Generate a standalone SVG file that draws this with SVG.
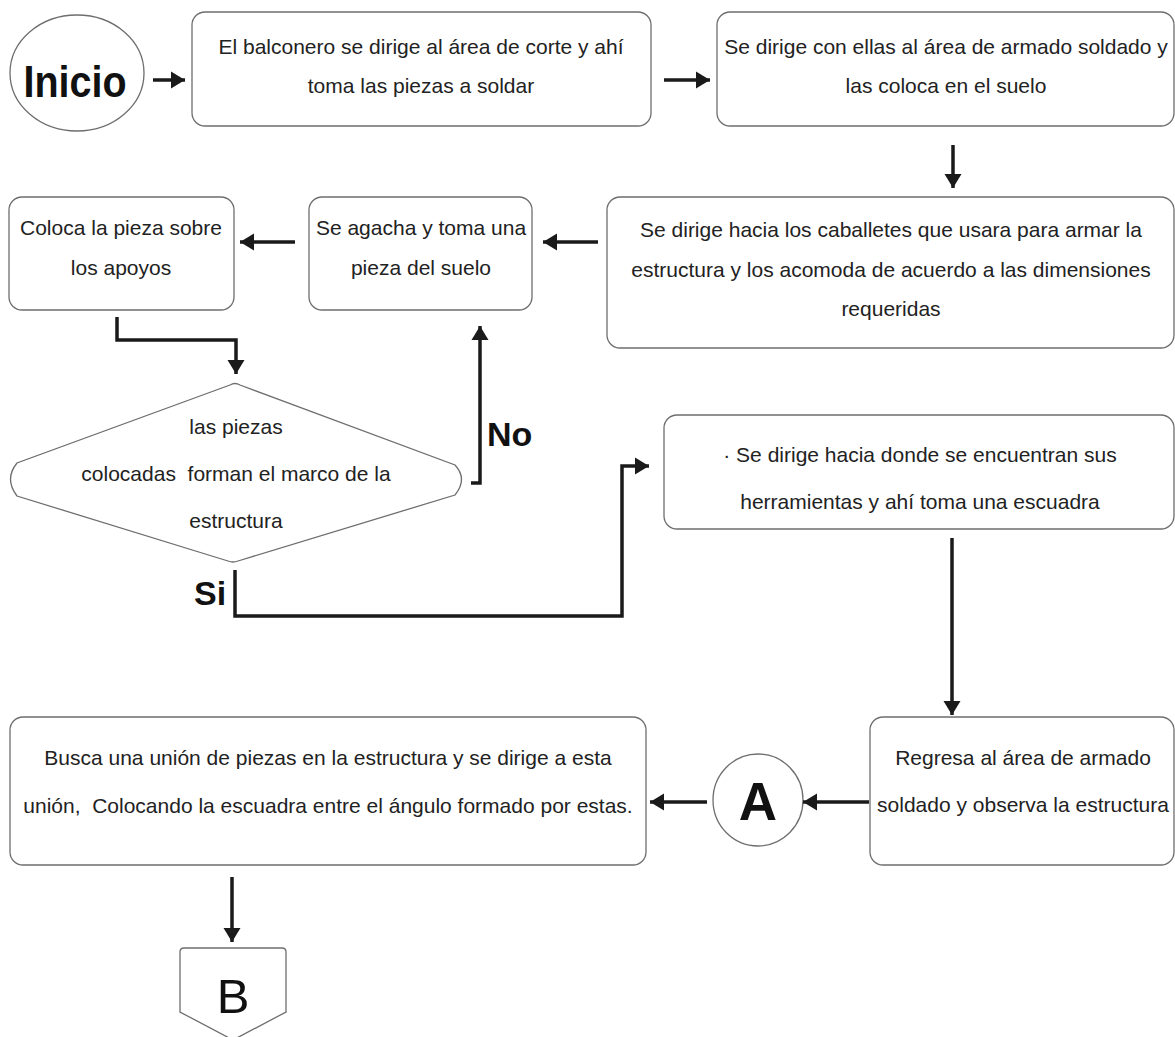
<svg xmlns="http://www.w3.org/2000/svg" width="1175" height="1037" viewBox="0 0 1175 1037">
  <style>
    .box { fill: #ffffff; stroke: #6e6e6e; stroke-width: 1.3; }
    .txt { font-family: "Liberation Sans", Arial, sans-serif; font-size: 21px; fill: #222222; text-anchor: middle; }
    .big { font-family: "Liberation Sans", Arial, sans-serif; font-weight: bold; fill: #111111; }
    .conn { fill: none; stroke: #1a1a1a; stroke-width: 3.5; stroke-linejoin: miter; }
  </style>
  <defs>
    <marker id="arrow" markerUnits="userSpaceOnUse" markerWidth="16" markerHeight="18" viewBox="0 0 16 18" refX="15" refY="9" orient="auto">
      <path d="M1,0.5 L15,9 L1,17.5 Z" fill="#1a1a1a"/>
    </marker>
  </defs>
  <rect width="1175" height="1037" fill="#ffffff"/>

  <!-- start terminator -->
  <g id="inicio">
    <ellipse class="box" cx="77" cy="73" rx="67" ry="58"/>
    <text class="big" x="75" y="97" font-size="44" text-anchor="middle" textLength="103" lengthAdjust="spacingAndGlyphs">Inicio</text>
  </g>

  <g id="tomar-piezas">
    <rect class="box" x="192" y="12" width="459" height="114" rx="13"/>
    <text class="txt" x="421" y="54">El balconero se dirige al área de corte y ahí</text>
    <text class="txt" x="421" y="93">toma las piezas a soldar</text>
  </g>

  <g id="area-armado">
    <rect class="box" x="717" y="12" width="457" height="114" rx="13"/>
    <text class="txt" x="946" y="54">Se dirige con ellas al área de armado soldado y</text>
    <text class="txt" x="946" y="93">las coloca en el suelo</text>
  </g>

  <g id="caballetes">
    <rect class="box" x="607" y="197" width="567" height="151" rx="13"/>
    <text class="txt" x="891" y="237">Se dirige hacia los caballetes que usara para armar la</text>
    <text class="txt" x="891" y="277">estructura y los acomoda de acuerdo a las dimensiones</text>
    <text class="txt" x="891" y="316">requeridas</text>
  </g>

  <g id="tomar-pieza">
    <rect class="box" x="309" y="197" width="223" height="113" rx="13"/>
    <text class="txt" x="421" y="235">Se agacha y toma una</text>
    <text class="txt" x="421" y="275">pieza del suelo</text>
  </g>

  <g id="colocar-pieza">
    <rect class="box" x="9" y="197" width="225" height="113" rx="13"/>
    <text class="txt" x="121" y="235">Coloca la pieza sobre</text>
    <text class="txt" x="121" y="275">los apoyos</text>
  </g>

  <!-- decision -->
  <g id="decision-marco">
    <path class="box" d="M230,385 Q235,382 240,385 L455,465 Q468,479 455,495 L238,561 Q233,563 228,561 L17,496 Q4,479 17,463 Z"/>
    <text class="txt" x="236" y="434">las piezas</text>
    <text class="txt" x="236" y="481" xml:space="preserve">colocadas  forman el marco de la</text>
    <text class="txt" x="236" y="528">estructura</text>
  </g>

  <g id="herramientas">
    <rect class="box" x="664" y="415" width="510" height="114" rx="13"/>
    <text class="txt" x="920" y="462">· Se dirige hacia donde se encuentran sus</text>
    <text class="txt" x="920" y="509">herramientas y ahí toma una escuadra</text>
  </g>

  <g id="observa">
    <rect class="box" x="870" y="717" width="304" height="148" rx="13"/>
    <text class="txt" x="1023" y="765">Regresa al área de armado</text>
    <text class="txt" x="1023" y="812">soldado y observa la estructura</text>
  </g>

  <g id="conector-a">
    <ellipse class="box" cx="758" cy="800" rx="45" ry="46"/>
    <text class="big" x="758" y="820" font-size="53" text-anchor="middle">A</text>
  </g>

  <g id="union">
    <rect class="box" x="10" y="717" width="636" height="148" rx="13"/>
    <text class="txt" x="328" y="765">Busca una unión de piezas en la estructura y se dirige a esta</text>
    <text class="txt" x="328" y="813" xml:space="preserve">unión,  Colocando la escuadra entre el ángulo formado por estas.</text>
  </g>

  <g id="conector-b">
    <path class="box" d="M184,948 L282,948 Q286,948 286,952 L286,1012 L233,1040 L180,1012 L180,952 Q180,948 184,948 Z"/>
    <text x="233" y="1013" font-family="Liberation Sans, Arial, sans-serif" font-size="49" fill="#111111" text-anchor="middle">B</text>
  </g>

  <!-- connectors -->
  <g id="connectors">
    <path class="conn" d="M153,80 L185,80" marker-end="url(#arrow)"/>
    <path class="conn" d="M664,80 L710,80" marker-end="url(#arrow)"/>
    <path class="conn" d="M953,145 L953,188" marker-end="url(#arrow)"/>
    <path class="conn" d="M598,242 L543,242" marker-end="url(#arrow)"/>
    <path class="conn" d="M295,242 L240,242" marker-end="url(#arrow)"/>
    <path class="conn" d="M117,317 L117,340 L236,340 L236,374" marker-end="url(#arrow)"/>
    <path class="conn" d="M471,483 L480,483 L480,326" marker-end="url(#arrow)"/>
    <path class="conn" d="M235,570 L235,616 L622,616 L622,466 L649,466" marker-end="url(#arrow)"/>
    <path class="conn" d="M952,538 L952,715" marker-end="url(#arrow)"/>
    <path class="conn" d="M869,802 L803,802" marker-end="url(#arrow)"/>
    <path class="conn" d="M707,802 L650,802" marker-end="url(#arrow)"/>
    <path class="conn" d="M232,877 L232,942" marker-end="url(#arrow)"/>
  </g>

  <!-- branch labels -->
  <text class="big" x="487" y="446" font-size="34">No</text>
  <text class="big" x="194" y="605" font-size="34">Si</text>
</svg>
